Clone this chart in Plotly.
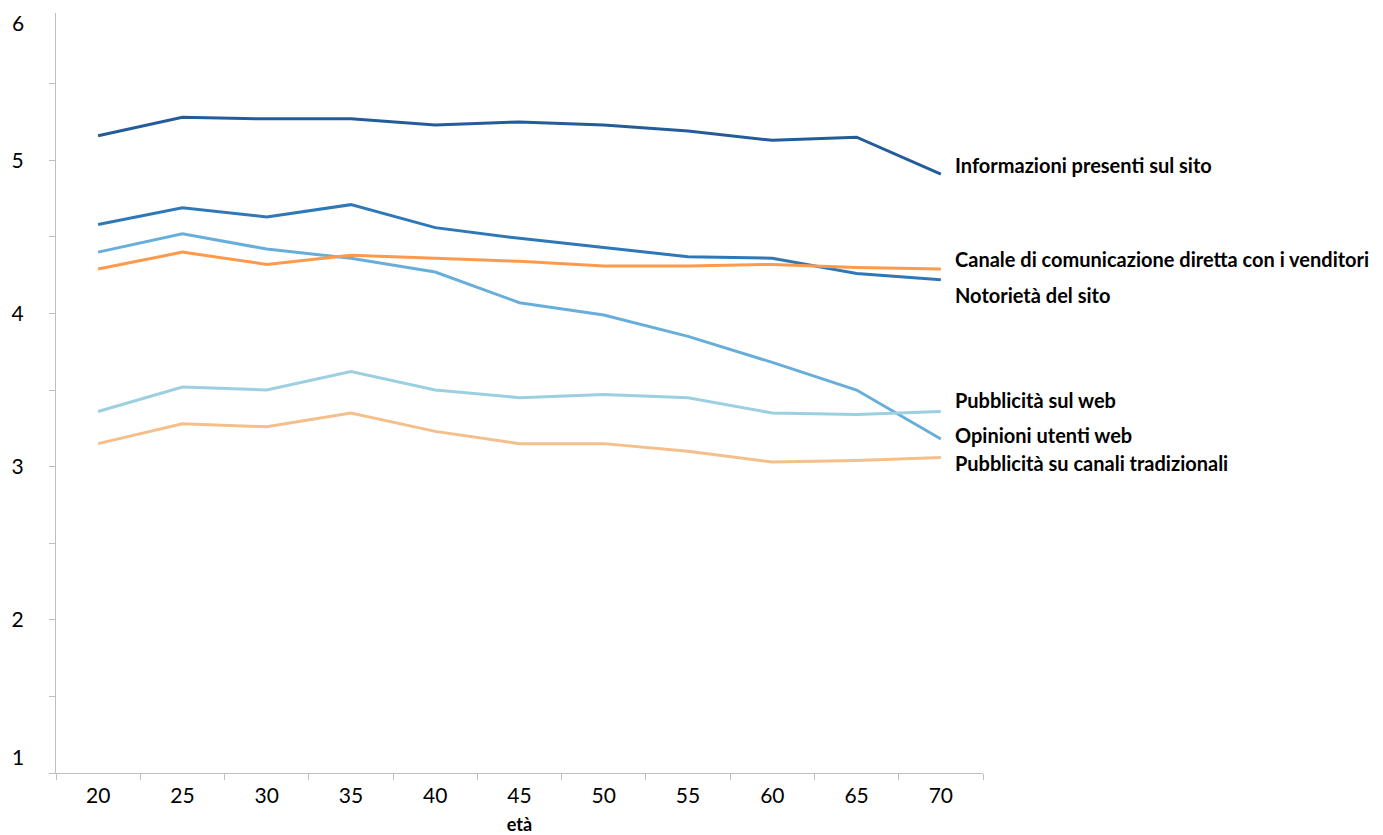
import plotly.graph_objects as go

eta = ["20", "25", "30", "35", "40", "45", "50", "55", "60", "65", "70"]

informazioni = [5.16, 5.28, 5.27, 5.27, 5.23, 5.25, 5.23, 5.19, 5.13, 5.15, 4.91]
notorieta = [4.58, 4.69, 4.63, 4.71, 4.56, 4.49, 4.43, 4.37, 4.36, 4.26, 4.22]
opinioni = [4.40, 4.52, 4.42, 4.36, 4.27, 4.07, 3.99, 3.85, 3.68, 3.50, 3.18]
canale = [4.29, 4.40, 4.32, 4.38, 4.36, 4.34, 4.31, 4.31, 4.32, 4.30, 4.29]
pub_web = [3.36, 3.52, 3.50, 3.62, 3.50, 3.45, 3.47, 3.45, 3.35, 3.34, 3.36]
pub_trad = [3.15, 3.28, 3.26, 3.35, 3.23, 3.15, 3.15, 3.10, 3.03, 3.04, 3.06]

series_names = [
    "Informazioni presenti sul sito",
    "Notorietà del sito",
    "Opinioni utenti web",
    "Canale di comunicazione diretta con i venditori",
    "Pubblicità sul web",
    "Pubblicità su canali tradizionali",
]
series_values = [informazioni, notorieta, opinioni, canale, pub_web, pub_trad]
series_colors = ["#245C99", "#2F78B8", "#68AEDB", "#FF9A4D", "#9CCFE0", "#F4BF8A"]

# label vertical positions (data units) for the right-side series labels
label_y = {
    "Informazioni presenti sul sito": 4.966,
    "Canale di comunicazione diretta con i venditori": 4.353,
    "Notorietà del sito": 4.12,
    "Pubblicità sul web": 3.435,
    "Opinioni utenti web": 3.207,
    "Pubblicità su canali tradizionali": 3.022,
}

fig = go.Figure()
for name, vals, col in zip(series_names, series_values, series_colors):
    fig.add_trace(go.Scatter(
        x=eta, y=vals, mode="lines", name=name,
        line=dict(color=col, width=3),
        showlegend=False,
    ))

annotations = []
for name in series_names:
    annotations.append(dict(
        x=0.9676, xref="paper", y=label_y[name], yref="y",
        text="<b>" + name + "</b>", showarrow=False,
        xanchor="left", yanchor="middle",
        font=dict(family="Lato", size=20, color="#000000"),
    ))

# edge tick labels (shifted inward like the original)
annotations.append(dict(
    x=-0.041, xref="paper", y=(773.3 - 22.7) / 760.6, yref="paper",
    text="6", showarrow=False, xanchor="center", yanchor="middle",
    font=dict(family="Lato", size=21, color="#000000"),
))
annotations.append(dict(
    x=-0.041, xref="paper", y=(773.3 - 757) / 760.6, yref="paper",
    text="1", showarrow=False, xanchor="center", yanchor="middle",
    font=dict(family="Lato", size=21, color="#000000"),
))

fig.update_layout(
    width=1383, height=835,
    margin=dict(l=56, r=400, t=13, b=62, autoexpand=False),
    paper_bgcolor="white", plot_bgcolor="white",
    font=dict(family="Lato", size=21, color="#000000"),
    annotations=annotations,
    xaxis=dict(
        type="category", range=[-0.5, 10.5], automargin=False,
        showgrid=False, zeroline=False,
        showline=True, linecolor="#BFBFBF", linewidth=1,
        ticks="outside", tickson="boundaries", ticklen=6, tickcolor="#BFBFBF",
        tickfont=dict(family="Lato", size=21, color="#000000"),
        ticklabelstandoff=4,
        title=dict(text="<b>età</b>", font=dict(family="Lato", size=18, color="#000000"), standoff=15),
    ),
    yaxis=dict(
        range=[1, 5.961], automargin=False,
        showgrid=False, zeroline=False,
        showline=True, linecolor="#BFBFBF", linewidth=1,
        tickmode="array", tickvals=[1, 2, 3, 4, 5], ticktext=["", "2", "3", "4", "5"],
        ticks="outside", ticklen=6, tickcolor="#BFBFBF",
        minor=dict(tickmode="array", tickvals=[1.5, 2.5, 3.5, 4.5, 5.5], ticks="outside", ticklen=6, tickcolor="#BFBFBF"),
        tickfont=dict(family="Lato", size=21, color="#000000"),
        ticklabelstandoff=21,
    ),
)

fig.write_html("out.html")
